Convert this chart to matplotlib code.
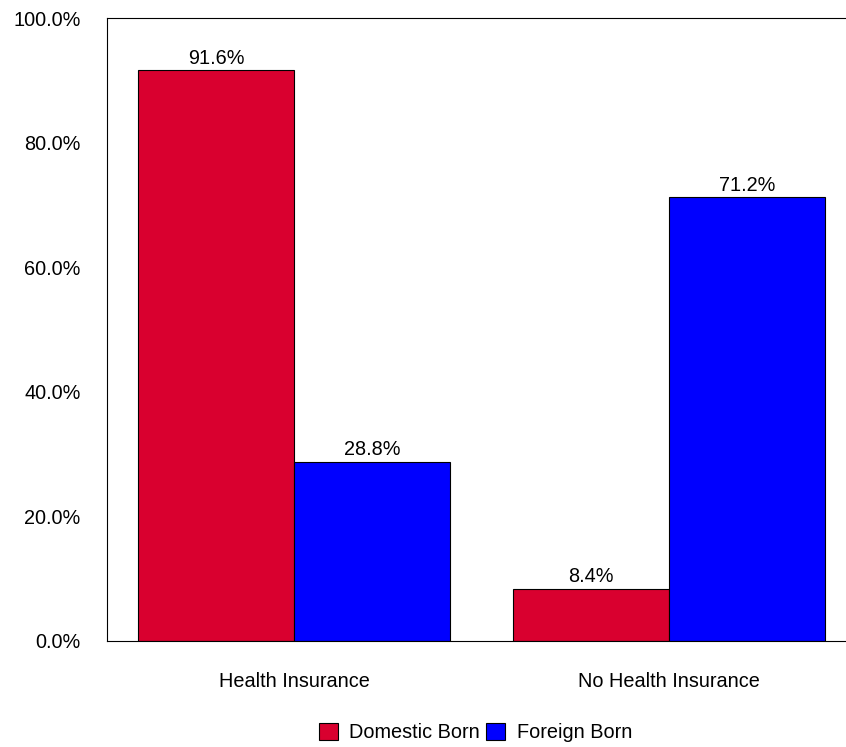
import matplotlib
matplotlib.use("Agg")
import matplotlib.pyplot as plt
import numpy as np
from matplotlib.patches import Patch

categories = ["Health Insurance", "No Health Insurance"]
series_names = ["Domestic Born", "Foreign Born"]
domestic = [91.6, 8.4]
foreign = [28.8, 71.2]
yticks = [0, 20, 40, 60, 80, 100]
colors = ["#D9002F", "#0000FF"]

plt.rcParams['font.family'] = ['Liberation Sans', 'DejaVu Sans']
FS = 14.3

fig = plt.figure(figsize=(8.46, 7.47), dpi=100)
ax = fig.add_axes([107/846, 1-641/747, (856-107)/846, (641-18)/747])

x = np.arange(len(categories))
w = 0.417
for i, (vals, c) in enumerate(zip([domestic, foreign], colors)):
    xs = x + (i - 0.5) * w
    bars = ax.bar(xs, vals, width=w, color=c, edgecolor="black", linewidth=0.8)
    for b, v in zip(bars, vals):
        ax.text(b.get_x() + b.get_width()/2, v + 0.4, f"{v:.1f}%", ha="center", va="bottom", fontsize=FS)

ax.set_xlim(-0.5, 1.5)
ax.set_ylim(0, 100)
ax.set_yticks(yticks)
ax.set_yticklabels([f"{t:.1f}%" for t in yticks], fontsize=FS)
ax.set_xticks(x)
ax.set_xticklabels(categories, fontsize=FS)
ax.tick_params(axis='y', length=0, pad=19)
ax.tick_params(axis='x', length=0, pad=22)
for s in ax.spines.values():
    s.set_linewidth(0.8)
ax.spines['right'].set_visible(False)

handles = [Patch(facecolor=c, edgecolor="black", linewidth=0.8, label=n) for c, n in zip(colors, series_names)]
fig.legend(handles=handles, loc="center", bbox_to_anchor=(475.5/846, 1-732.5/747), ncol=2, frameon=False,
           fontsize=FS, handlelength=0.95, handleheight=0.95, handletextpad=0.6, columnspacing=0.3,
           borderpad=0, borderaxespad=0)

fig.savefig("out.png", dpi=100)
